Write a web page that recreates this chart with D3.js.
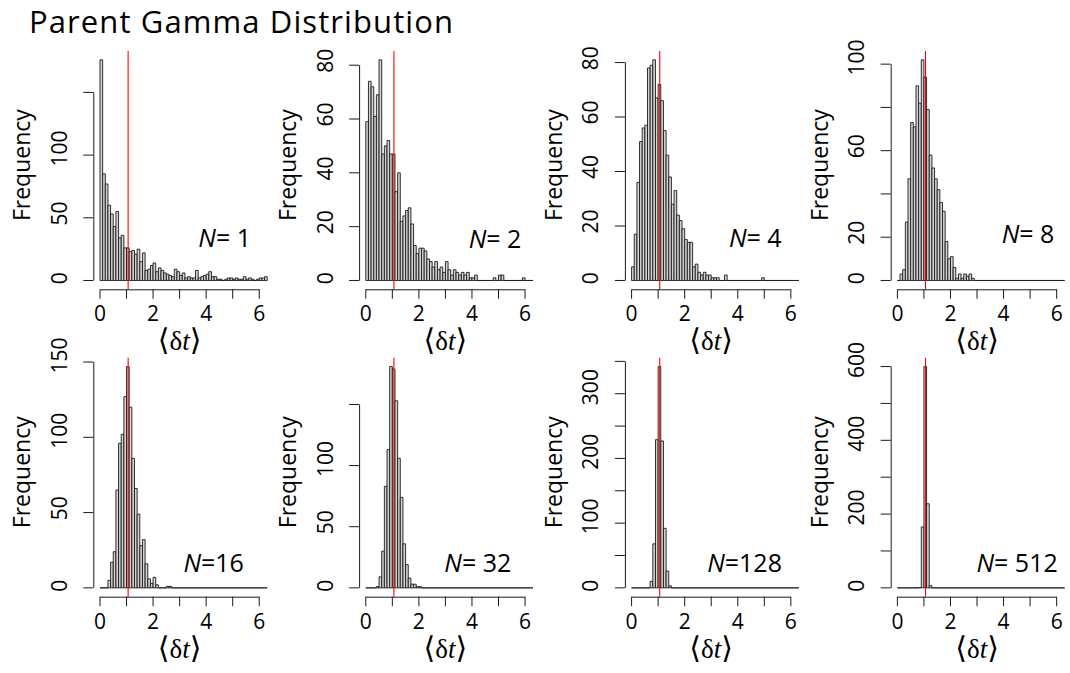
<!DOCTYPE html>
<html>
<head>
<meta charset="utf-8">
<script src="https://cdn.jsdelivr.net/npm/d3@7"></script>
<style>
  body { margin: 0; background: #fff; }
  svg text { fill: #000; }
</style>
</head>
<body>
<svg id="fig" width="1070" height="673"></svg>
<script>
// Histograms of the sample mean <δt> for samples of N draws from a gamma parent.
// Every panel shares the same breaks: width 0.1 from 0 to 6.3.
const binStart = 0;
const binWidth = 0.1;
const binTotal = 63;

const sampleSizes = [1, 2, 4, 8, 16, 32, 128, 512];
const sizeText = ["= 1", "= 2", "= 4", "= 8", "=16", "= 32", "=128", "= 512"];

// counts per bin, starting at the 0.0–0.1 bin; bins after the list are empty
const countsN1 = [176, 85, 77, 60, 53, 43, 55, 34, 36, 26,
                  26, 23, 24, 21, 25, 15, 22, 8, 9, 12,
                  14, 7, 10, 8, 6, 5, 4, 3, 9, 7,
                  4, 6, 2, 3, 2, 2, 8, 2, 3, 4,
                  5, 7, 3, 3, 1, 1, 0, 1, 2, 2,
                  1, 2, 1, 1, 3, 1, 2, 1, 0, 1,
                  2, 2, 3];
const countsN2 = [59, 74, 72, 61, 69, 82, 47, 50, 52, 47,
                  47, 33, 40, 22, 24, 26, 27, 21, 13, 10,
                  12, 12, 11, 8, 7, 5, 7, 4, 5, 3,
                  7, 4, 2, 4, 3, 2, 3, 2, 3, 1,
                  1, 2, 0, 0, 0, 0, 0, 0, 1, 0,
                  2, 2, 0, 0, 0, 0, 0, 0, 0, 1];
const countsN4 = [5, 17, 36, 51, 56, 57, 78, 79, 81, 67,
                  72, 66, 55, 46, 38, 28, 33, 24, 22, 19,
                  15, 14, 14, 5, 6, 3, 2, 3, 2, 2,
                  1, 1, 1, 0, 0, 2, 0, 0, 0, 0,
                  0, 0, 0, 0, 0, 0, 0, 0, 0, 1];
const countsN8 = [0, 3, 5, 27, 47, 73, 71, 90, 82, 102,
                  94, 79, 58, 52, 47, 42, 36, 32, 18, 10,
                  11, 6, 1, 3, 1, 3, 2, 3, 1];
const countsN16 = [0, 0, 0, 5, 17, 24, 65, 96, 102, 127,
                   147, 120, 86, 66, 49, 28, 32, 16, 6, 3,
                   7, 2, 0, 0, 0, 1, 1];
const countsN32 = [0, 0, 0, 0, 1, 9, 30, 83, 113, 181,
                   179, 153, 106, 74, 36, 19, 8, 3, 3, 1,
                   1];
const countsN128 = [0, 0, 0, 0, 0, 0, 0, 10, 68, 229,
                    342, 227, 92, 26, 3];
const countsN512 = [0, 0, 0, 0, 0, 0, 0, 0, 1, 165,
                    600, 228, 6];

const panelCounts = [countsN1, countsN2, countsN4, countsN8,
                     countsN16, countsN32, countsN128, countsN512];

// vertical reference line at the parent mean
const parentMean = 1.06;

// axis ticks
const xTicks = [0, 1, 2, 3, 4, 5, 6];
const xTickLabels = ["0", "", "2", "", "4", "", "6"];
const yTicks = [
  [0, 50, 100, 150],
  [0, 20, 40, 60, 80],
  [0, 20, 40, 60, 80],
  [0, 20, 40, 60, 80, 100],
  [0, 50, 100, 150],
  [0, 50, 100, 150],
  [0, 50, 100, 150, 200, 250, 300, 350],
  [0, 100, 200, 300, 400, 500, 600]
];
const yTickLabels = [
  ["0", "50", "100", ""],
  ["0", "20", "40", "60", "80"],
  ["0", "20", "40", "60", "80"],
  ["0", "20", "", "60", "", "100"],
  ["0", "50", "100", "150"],
  ["0", "50", "100", ""],
  ["0", "", "100", "", "200", "", "300", ""],
  ["0", "", "200", "", "400", "", "600"]
];

// layout
const colLeft = [93.3, 359.1, 624.9, 890.7];
const plotW = 180.6;
const rowTop = [51, 357.7];
const rowBottom = [289.3, 596.7];
// centre (px from the zero tick) and baseline of the N labels
const nLabelDx = [124.7, 129.3, 123.7, 130.7, 113.7, 112, 113, 119.7];
const nLabelY = [246.7, 248.3, 246.7, 243.3, 571.5, 571.5, 571.5, 571.5];

const sans = "'Open Sans', 'Noto Sans', sans-serif";
const serif = "'Liberation Serif', 'DejaVu Serif', serif";

const svg = d3.select("#fig");

svg.append("text")
  .attr("x", 29).attr("y", 33)
  .style("font-family", sans).style("font-size", "31px")
  .style("letter-spacing", "1.1px")
  .text("Parent Gamma Distribution");

const breakMax = binStart + binWidth * binTotal;

panelCounts.forEach((counts, i) => {
  const col = i % 4, row = Math.floor(i / 4);
  const left = colLeft[col];
  const top = rowTop[row], bottom = rowBottom[row];

  const bins = d3.range(binTotal).map(k => ({
    x0: binStart + k * binWidth,
    x1: binStart + (k + 1) * binWidth,
    n: k < counts.length ? counts[k] : 0
  }));
  const maxCount = d3.max(bins, d => d.n);

  const x = d3.scaleLinear()
    .domain([binStart - 0.04 * (breakMax - binStart), breakMax + 0.04 * (breakMax - binStart)])
    .range([left, left + plotW]);
  const y = d3.scaleLinear()
    .domain([-0.04 * maxCount, 1.04 * maxCount])
    .range([bottom, top]);

  const g = svg.append("g");

  // bars: outlined paths so empty bins still show as a flat line
  g.append("g").selectAll("path").data(bins).join("path")
    .attr("d", d => `M${x(d.x0)},${y(0)}V${y(d.n)}H${x(d.x1)}V${y(0)}Z`)
    .attr("fill", "#d3d3d3")
    .attr("stroke", "#1a1a1a")
    .attr("stroke-width", 0.9);

  // parent mean
  g.append("line")
    .attr("x1", x(parentMean)).attr("x2", x(parentMean))
    .attr("y1", top).attr("y2", bottom)
    .attr("stroke", "#ff0000").attr("stroke-width", 1.1);

  // x axis
  const xa = g.append("g").attr("stroke", "#1a1a1a").attr("stroke-width", 1);
  xa.append("line")
    .attr("x1", x(xTicks[0])).attr("x2", x(xTicks[xTicks.length - 1]))
    .attr("y1", bottom + 0.5).attr("y2", bottom + 0.5);
  xa.selectAll("line.tick").data(xTicks).join("line").attr("class", "tick")
    .attr("x1", d => x(d)).attr("x2", d => x(d))
    .attr("y1", bottom).attr("y2", bottom + 9.5);
  g.append("g").selectAll("text").data(xTicks).join("text")
    .attr("x", d => x(d)).attr("y", bottom + 32)
    .attr("text-anchor", "middle")
    .style("font-family", sans).style("font-size", "21px")
    .text((d, k) => xTickLabels[k]);

  // y axis
  const ticks = yTicks[i], labels = yTickLabels[i];
  const ya = g.append("g").attr("stroke", "#1a1a1a").attr("stroke-width", 1);
  ya.append("line")
    .attr("x1", left + 0.5).attr("x2", left + 0.5)
    .attr("y1", y(ticks[0])).attr("y2", y(ticks[ticks.length - 1]));
  ya.selectAll("line.tick").data(ticks).join("line").attr("class", "tick")
    .attr("x1", left - 10).attr("x2", left)
    .attr("y1", d => y(d)).attr("y2", d => y(d));
  g.append("g").selectAll("text").data(ticks).join("text")
    .attr("transform", d => `translate(${left - 26.5},${y(d)}) rotate(-90)`)
    .attr("x", (d, k) => 2.2 * labels[k].length)
    .attr("text-anchor", "middle")
    .style("font-family", sans).style("font-size", "21px")
    .text((d, k) => labels[k]);

  // axis titles
  g.append("text")
    .attr("transform", `translate(${left - 63},${(top + bottom) / 2}) rotate(-90)`)
    .attr("x", 5)
    .attr("text-anchor", "middle")
    .style("font-family", sans).style("font-size", "23px")
    .text("Frequency");

  const xl = g.append("text")
    .attr("x", x(3)).attr("y", bottom + 61)
    .attr("text-anchor", "middle");
  xl.append("tspan").style("font-family", "'DejaVu Sans', sans-serif").style("font-size", "30px").text("\u27E8");
  xl.append("tspan").style("font-family", serif).style("font-size", "27px").text("\u03B4");
  xl.append("tspan").style("font-family", serif).style("font-size", "27px").style("font-style", "italic").text("t");
  xl.append("tspan").style("font-family", "'DejaVu Sans', sans-serif").style("font-size", "30px").text("\u27E9");

  // sample size
  const nl = g.append("text")
    .attr("x", x(0) + nLabelDx[i]).attr("y", nLabelY[i])
    .attr("text-anchor", "middle")
    .style("font-family", sans).style("font-size", "25px");
  nl.append("tspan").style("font-style", "italic").text("N");
  nl.append("tspan").text(sizeText[i]);
});
</script>
</body>
</html>
